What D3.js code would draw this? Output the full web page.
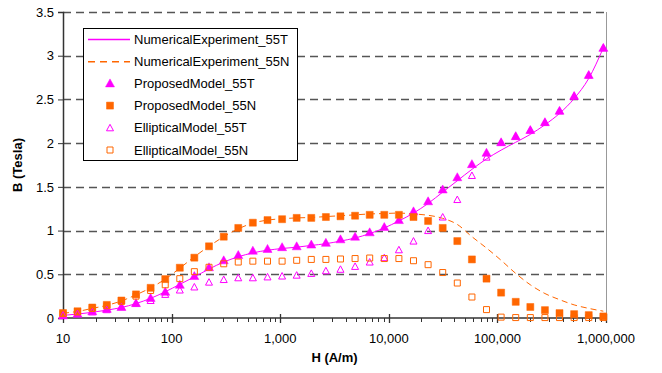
<!DOCTYPE html>
<html>
<head>
<meta charset="utf-8">
<script src="https://cdn.jsdelivr.net/npm/d3@7"></script>
<style>
    body { margin: 0; background: #fff; }
    text { font-family: "Liberation Sans", Arial, sans-serif; font-size: 13px; fill: #000; }
    .axis-title { font-weight: bold; }
</style>
</head>
<body>
<div id="chart"></div>
<script>
// H values (A/m) where all series are sampled
var hValues = [10, 13.6, 18.6, 25.3, 34.5, 47.0, 64.1, 87.4, 119, 162, 221, 302, 411, 560, 764,
    1041, 1418, 1933, 2634, 3590, 4893, 6669, 9089, 12387, 16882, 23009, 31359, 42739, 58249,
    79387, 108196, 147460, 200973, 273906, 373304, 508774, 693404, 945034];

var numExp55T = [0.03, 0.045, 0.065, 0.09, 0.12, 0.165, 0.225, 0.30, 0.385, 0.47, 0.56, 0.64, 0.70, 0.745, 0.775,
    0.795, 0.81, 0.83, 0.85, 0.88, 0.915, 0.965, 1.03, 1.11, 1.20, 1.31, 1.44, 1.57, 1.70,
    1.82, 1.92, 2.01, 2.10, 2.21, 2.34, 2.51, 2.74, 3.09];

var numExp55N = [0.055, 0.075, 0.11, 0.145, 0.195, 0.265, 0.345, 0.445, 0.57, 0.70, 0.82, 0.93, 1.02, 1.085, 1.12,
    1.135, 1.145, 1.15, 1.16, 1.17, 1.18, 1.19, 1.195, 1.20, 1.19, 1.175, 1.14, 1.07, 0.93,
    0.80, 0.66, 0.51, 0.38, 0.28, 0.21, 0.15, 0.11, 0.078];

var proposed55T = [0.03, 0.05, 0.077, 0.105, 0.126, 0.17, 0.23, 0.30, 0.38, 0.48, 0.58, 0.66, 0.72, 0.77, 0.79,
    0.81, 0.82, 0.84, 0.86, 0.90, 0.93, 0.98, 1.04, 1.12, 1.22, 1.335, 1.47, 1.61, 1.76,
    1.89, 2.01, 2.08, 2.15, 2.24, 2.37, 2.54, 2.78, 3.09];

var proposed55N = [0.057, 0.077, 0.12, 0.15, 0.20, 0.27, 0.345, 0.445, 0.575, 0.69, 0.82, 0.93, 1.03, 1.09, 1.12,
    1.13, 1.145, 1.145, 1.155, 1.163, 1.17, 1.18, 1.18, 1.18, 1.155, 1.11, 1.03, 0.88, 0.67,
    0.45, 0.29, 0.185, 0.126, 0.09, 0.056, 0.044, 0.033, 0.018];

var elliptical55T = [0.035, 0.05, 0.07, 0.095, 0.13, 0.17, 0.20, 0.27, 0.32, 0.355, 0.41, 0.44, 0.46, 0.46, 0.47,
    0.48, 0.49, 0.51, 0.54, 0.557, 0.59, 0.64, 0.69, 0.78, 0.88, 1.0, 1.155, 1.355, 1.63,
    1.84, 2.01, 2.08, 2.15, 2.24, 2.37, 2.54, 2.78, 3.09];

var elliptical55N = [0.05, 0.07, 0.11, 0.14, 0.19, 0.25, 0.315, 0.38, 0.45, 0.53, 0.58, 0.62, 0.64, 0.65, 0.65,
    0.65, 0.66, 0.67, 0.67, 0.675, 0.68, 0.686, 0.68, 0.68, 0.655, 0.61, 0.52, 0.40, 0.24,
    0.096, 0.01, 0.005, 0.005, 0.005, 0.005, 0.005, 0.005, 0.005];

var yTicks = [0, 0.5, 1, 1.5, 2, 2.5, 3, 3.5];
var xTicks = [10, 100, 1000, 10000, 100000, 1000000];
var legendLabels = ["NumericalExperiment_55T", "NumericalExperiment_55N", "ProposedModel_55T",
    "ProposedModel_55N", "EllipticalModel_55T", "EllipticalModel_55N"];

var magenta = "#ff00ff";
var orange = "#ff6600";

var margin = { top: 12, right: 56, bottom: 55, left: 63 };
var totalWidth = 662, totalHeight = 373;
var width = totalWidth - margin.left - margin.right,
    height = totalHeight - margin.top - margin.bottom;

var svg = d3.select("#chart").append("svg")
    .attr("width", totalWidth)
    .attr("height", totalHeight);

var g = svg.append("g")
    .attr("transform", "translate(" + margin.left + "," + margin.top + ")");

// Scales
var x = d3.scaleLog().domain([10, 1000000]).range([0, width]);
var y = d3.scaleLinear().domain([0, 3.5]).range([height, 0]);

// Gridlines
g.selectAll(".grid")
    .data(yTicks.filter(function(d) { return d > 0; }))
    .enter().append("line")
    .attr("class", "grid")
    .attr("x1", 0).attr("x2", width)
    .attr("y1", function(d) { return Math.round(y(d)) + 0.5; })
    .attr("y2", function(d) { return Math.round(y(d)) + 0.5; })
    .attr("stroke", "#555")
    .attr("stroke-width", 1.3)
    .attr("stroke-dasharray", "8,5");

// right border of plot area
g.append("line")
    .attr("x1", width + 0.5).attr("x2", width + 0.5)
    .attr("y1", 0).attr("y2", height)
    .attr("stroke", "#999");

// Y axis
var yAxis = d3.axisLeft(y).tickValues(yTicks).tickSize(5).tickPadding(4)
    .tickFormat(d3.format("~g"));
var yAxisGroup = g.append("g").attr("class", "axis y-axis").call(yAxis);
yAxisGroup.select(".domain").attr("stroke", "#333").attr("stroke-width", 1.5);
yAxisGroup.selectAll(".tick line").attr("stroke", "#333");
yAxisGroup.selectAll(".tick text").attr("font-size", null).attr("font-family", null);

// X axis: minor ticks below, major ticks crossing the axis
var minorTicks = [];
xTicks.slice(0, -1).forEach(function(dec) {
    for (var m = 2; m <= 9; m++) minorTicks.push(dec * m);
});
var xAxisGroup = g.append("g")
    .attr("class", "axis x-axis")
    .attr("transform", "translate(0," + height + ")");
xAxisGroup.append("line")
    .attr("x1", 0).attr("x2", width)
    .attr("stroke", "#333").attr("stroke-width", 1.5);
xAxisGroup.selectAll(".minor")
    .data(minorTicks)
    .enter().append("line")
    .attr("class", "minor")
    .attr("x1", function(d) { return Math.round(x(d)) + 0.5; })
    .attr("x2", function(d) { return Math.round(x(d)) + 0.5; })
    .attr("y1", 0).attr("y2", 4)
    .attr("stroke", "#333");
xAxisGroup.selectAll(".major")
    .data(xTicks)
    .enter().append("line")
    .attr("class", "major")
    .attr("x1", function(d) { return Math.round(x(d)) + 0.5; })
    .attr("x2", function(d) { return Math.round(x(d)) + 0.5; })
    .attr("y1", -4).attr("y2", 5)
    .attr("stroke", "#333").attr("stroke-width", 1.3);
xAxisGroup.selectAll(".xlabel")
    .data(xTicks)
    .enter().append("text")
    .attr("class", "xlabel")
    .attr("x", function(d) { return x(d); })
    .attr("y", 25)
    .attr("text-anchor", "middle")
    .text(d3.format(","));

// Axis titles
svg.append("text")
    .attr("class", "axis-title")
    .attr("x", margin.left + width / 2)
    .attr("y", 362)
    .attr("text-anchor", "middle")
    .text("H (A/m)");
svg.append("text")
    .attr("class", "axis-title")
    .attr("transform", "translate(22," + (margin.top + height / 2) + ") rotate(-90)")
    .attr("text-anchor", "middle")
    .text("B (Tesla)");

// Lines
function seriesPoints(values) {
    return values.map(function(v, i) { return [hValues[i], v]; });
}
var line = d3.line()
    .x(function(d) { return x(d[0]); })
    .y(function(d) { return y(d[1]); })
    .curve(d3.curveMonotoneX);

g.append("path")
    .datum(seriesPoints(numExp55T))
    .attr("fill", "none")
    .attr("stroke", magenta)
    .attr("stroke-width", 1)
    .attr("d", line);

g.append("path")
    .datum(seriesPoints(numExp55N))
    .attr("fill", "none")
    .attr("stroke", orange)
    .attr("stroke-width", 1)
    .attr("stroke-dasharray", "6,4")
    .attr("d", line);

// Markers
var triPath = "M0,-4.5L4.5,3.5L-4.5,3.5Z";
var sqPath = "M-3.5,-3.5H3.5V3.5H-3.5Z";
var triOpenPath = "M0,-3.5L3.5,3L-3.5,3Z";
var sqOpenPath = "M-3,-3H3V3H-3Z";

function drawMarkers(values, path, color, filled) {
    g.append("g").selectAll("path")
        .data(seriesPoints(values))
        .enter().append("path")
        .attr("transform", function(d) { return "translate(" + x(d[0]) + "," + y(d[1]) + ")"; })
        .attr("d", path)
        .attr("fill", filled ? color : "none")
        .attr("stroke", color)
        .attr("stroke-width", filled ? 0.5 : 1);
}

drawMarkers(proposed55T, triPath, magenta, true);
drawMarkers(proposed55N, sqPath, orange, true);
drawMarkers(elliptical55T, triOpenPath, magenta, false);
drawMarkers(elliptical55N, sqOpenPath, orange, false);

// Legend
var legend = svg.append("g").attr("transform", "translate(83,28)");
legend.append("rect")
    .attr("x", 0.5).attr("y", 0.5)
    .attr("width", 214).attr("height", 132)
    .attr("fill", "#fff")
    .attr("stroke", "#000");

var legendRows = legend.selectAll(".row")
    .data(legendLabels)
    .enter().append("g")
    .attr("class", "row")
    .attr("transform", function(d, i) { return "translate(0," + (11 + i * 22.2) + ")"; });

legendRows.append("text")
    .attr("x", 51)
    .attr("dy", "0.35em")
    .text(function(d) { return d; });

legendRows.each(function(d, i) {
    var row = d3.select(this);
    if (i < 2) {
        row.append("line")
            .attr("x1", 5).attr("x2", 47)
            .attr("y1", 0.5).attr("y2", 0.5)
            .attr("stroke", i == 0 ? magenta : orange)
            .attr("stroke-width", 1.5)
            .attr("stroke-dasharray", i == 0 ? null : "7,5");
    } else {
        var paths = [triPath, sqPath, triOpenPath, sqOpenPath];
        var filled = i < 4;
        var color = (i % 2 == 0) ? magenta : orange;
        row.append("path")
            .attr("transform", "translate(27,0)")
            .attr("d", paths[i - 2])
            .attr("fill", filled ? color : "none")
            .attr("stroke", color)
            .attr("stroke-width", filled ? 0.5 : 1);
    }
});
</script>
</body>
</html>
